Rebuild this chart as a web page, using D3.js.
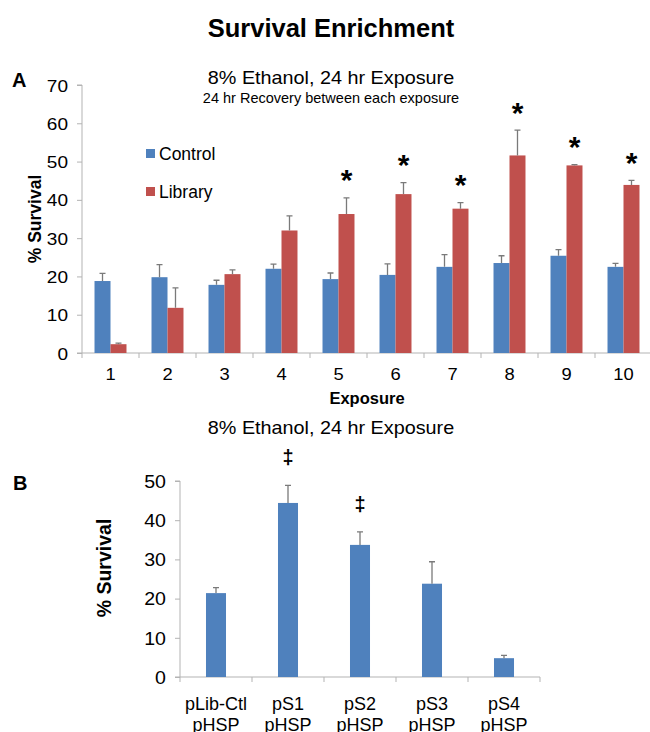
<!DOCTYPE html>
<html><head><meta charset="utf-8">
<script src="https://cdn.jsdelivr.net/npm/d3@7"></script>
<style>
html,body{margin:0;padding:0;background:#fff;}
svg{display:block;font-family:"Liberation Sans",Arial,sans-serif;}
</style></head>
<body>
<svg id="chart" width="650" height="732"></svg>
<script>
// ---------- Data ----------
const exposures = ["1","2","3","4","5","6","7","8","9","10"];
const seriesNames = ["Control","Library"];
const controlValues = [18.8, 19.8, 17.8, 22.0, 19.3, 20.4, 22.5, 23.5, 25.4, 22.5];
const controlErrTop = [20.8, 23.1, 19.0, 23.2, 20.9, 23.3, 25.7, 25.4, 27.0, 23.4];
const libraryValues = [2.3, 11.8, 20.6, 32.0, 36.3, 41.5, 37.7, 51.6, 49.0, 43.9];
const libraryErrTop = [2.6, 17.0, 21.7, 35.8, 40.5, 44.5, 39.3, 58.2, 49.2, 45.1];
const significantA = [false,false,false,false,true,true,true,true,true,true];
const yTicksA = [0,10,20,30,40,50,60,70];

const strainsLine1 = ["pLib-Ctl","pS1","pS2","pS3","pS4"];
const strainsLine2 = ["pHSP","pHSP","pHSP","pHSP","pHSP"];
const strainValues = [21.4, 44.4, 33.7, 23.8, 4.8];
const strainErrTop = [22.8, 48.9, 37.0, 29.4, 5.5];
const significantB = [false,true,true,false,false];
const yTicksB = [0,10,20,30,40,50];

// ---------- Style ----------
const BLUE = "#4f81bd", RED = "#c0504d", AXIS = "#b3b3b3", ERR = "#7a7a7a";
const FONT = "Liberation Sans, Arial, sans-serif";
const svg = d3.select("#chart");

function txt(x, y, s, size, opts = {}) {
  return svg.append("text")
    .attr("transform", `translate(${x},${y})` + (opts.rot ? ` rotate(${opts.rot})` : "") + (opts.sx ? ` scale(${opts.sx},1)` : ""))
    .attr("font-size", size)
    .attr("font-weight", opts.bold ? "bold" : "normal")
    .attr("text-anchor", opts.anchor || "middle")
    .attr("fill", "#000")
    .text(s);
}
function styleYTicks(g, size, sx) {
  g.selectAll(".tick line").attr("stroke", AXIS);
  g.selectAll(".tick text").attr("font-size", size).attr("fill", "#000").attr("font-family", FONT)
    .attr("dy", "0.36em").attr("x", -14 / sx).attr("transform", `scale(${sx},1)`);
}

// Main title
txt(331, 36.5, "Survival Enrichment", 25.5, {bold: true});

// ---------- Panel A ----------
const xA = d3.scaleBand().domain(exposures).range([82, 652]).paddingInner(0.439).paddingOuter(0.2195);
const xA1 = d3.scaleBand().domain(seriesNames).range([0, xA.bandwidth()]);
const yA = d3.scaleLinear().domain([0, 70]).range([353, 85]);
const colorA = d3.scaleOrdinal().domain(seriesNames).range([BLUE, RED]);

txt(12, 87, "A", 20, {bold: true, anchor: "start"});
txt(331, 84, "8% Ethanol,  24 hr Exposure", 18, {sx: 1.1});
txt(331, 102.5, "24 hr Recovery between each exposure", 14.5);

const gA = svg.append("g");
// y axis
const yAxisA = d3.axisLeft(yA).tickValues(yTicksA).tickSize(5).tickPadding(9).tickFormat(d3.format("d"));
const gyA = gA.append("g").attr("transform", "translate(82,0)").call(yAxisA);
gyA.select(".domain").attr("stroke", AXIS).attr("d", `M-5,${yA(0)}H0V${yA(70)}H-5`);
styleYTicks(gyA, 17, 1.12);

// x axis
const gxA = gA.append("g").attr("transform", `translate(0,${yA(0)})`);
gxA.append("line").attr("x1", 82).attr("x2", 652).attr("stroke", AXIS);
const boundsA = exposures.map(d => xA(d) - xA.step()*xA.paddingInner()/2).concat([652]);
gxA.selectAll("line.b").data(boundsA).join("line").attr("class","b")
  .attr("x1", d => d).attr("x2", d => d).attr("y1", 0).attr("y2", 5).attr("stroke", AXIS);
const xAxisA = d3.axisBottom(xA).tickSize(0).tickPadding(0);
const gxA2 = gA.append("g").attr("transform", `translate(0,380)`).call(xAxisA);
gxA2.select(".domain").remove();
gxA2.selectAll(".tick text").attr("font-size", 17).attr("fill", "#000").attr("dy", 0).attr("y", 0)
  .attr("font-family", FONT).attr("transform", "scale(1.08,1)");

txt(367, 404, "Exposure", 16.5, {bold: true});
txt(41, 219, "% Survival", 17.5, {bold: true, rot: -90});

// bars
const rowsA = exposures.map((e, i) => ({e, i, vals: [
  {s: "Control", v: controlValues[i], err: controlErrTop[i]},
  {s: "Library", v: libraryValues[i], err: libraryErrTop[i]}]}));
const grp = gA.selectAll("g.grp").data(rowsA).join("g").attr("class","grp")
  .attr("transform", d => `translate(${xA(d.e)},0)`);
grp.selectAll("rect").data(d => d.vals).join("rect")
  .attr("x", d => xA1(d.s)).attr("width", xA1.bandwidth())
  .attr("y", d => yA(d.v)).attr("height", d => yA(0) - yA(d.v))
  .attr("fill", d => colorA(d.s));
grp.selectAll("path.err").data(d => d.vals).join("path").attr("class","err")
  .attr("d", d => { const cx = xA1(d.s) + xA1.bandwidth()/2;
    return `M${cx},${yA(d.v)}V${yA(d.err)}M${cx-3},${yA(d.err)}H${cx+3}`; })
  .attr("stroke", ERR).attr("stroke-width", 1.3).attr("fill","none");
// significance
rowsA.forEach((d, i) => {
  if (!significantA[i]) return;
  const cx = xA(d.e) + xA1("Library") + xA1.bandwidth()/2;
  txt(cx, yA(libraryErrTop[i]) - 24 + 16.5, "*", 30, {bold: true});
});

// legend
seriesNames.forEach((s, i) => {
  const yy = 149 + i*38;
  svg.append("rect").attr("x", 146).attr("y", yy).attr("width", 9).attr("height", 9).attr("fill", colorA(s));
  txt(159, yy + 10.5, s, 17.5, {anchor: "start"});
});

// ---------- Panel B ----------
const xB = d3.scaleBand().domain(strainsLine1).range([180, 540]).paddingInner(0.722).paddingOuter(0.361);
const yB = d3.scaleLinear().domain([0, 50]).range([677, 481]);

txt(13, 490, "B", 20, {bold: true, anchor: "start"});
txt(331, 434, "8% Ethanol,  24 hr Exposure", 18, {sx: 1.1});
txt(111, 568, "% Survival", 19.5, {bold: true, rot: -90});

const gB = svg.append("g");
const yAxisB = d3.axisLeft(yB).tickValues(yTicksB).tickSize(5).tickPadding(9).tickFormat(d3.format("d"));
const gyB = gB.append("g").attr("transform", "translate(180,0)").call(yAxisB);
gyB.select(".domain").attr("stroke", AXIS).attr("d", `M-5,${yB(0)}H0V${yB(50)}H-5`);
styleYTicks(gyB, 17.5, 1.12);

const gxB = gB.append("g").attr("transform", `translate(0,${yB(0)})`);
gxB.append("line").attr("x1", 180).attr("x2", 540).attr("stroke", AXIS);
const boundsB = strainsLine1.map(d => xB(d) - xB.step()*xB.paddingInner()/2).concat([540]);
gxB.selectAll("line.b").data(boundsB).join("line").attr("class","b")
  .attr("x1", d => d).attr("x2", d => d).attr("y1", 0).attr("y2", 5).attr("stroke", AXIS);
strainsLine1.forEach((s, i) => {
  const cx = xB(s) + xB.bandwidth()/2;
  txt(cx, 709.5, s, 18);
  txt(cx, 730.5, strainsLine2[i], 18);
});

strainsLine1.forEach((s, i) => {
  const x0 = xB(s), w = xB.bandwidth(), cx = x0 + w/2;
  gB.append("rect").attr("x", x0).attr("width", w).attr("y", yB(strainValues[i]))
    .attr("height", yB(0) - yB(strainValues[i])).attr("fill", BLUE);
  gB.append("path").attr("d", `M${cx},${yB(strainValues[i])}V${yB(strainErrTop[i])}M${cx-3},${yB(strainErrTop[i])}H${cx+3}`)
    .attr("stroke", ERR).attr("stroke-width", 1.3).attr("fill","none");
  if (significantB[i]) txt(cx, yB(strainErrTop[i]) - 21, "‡", 20, {bold: true});
});
</script>
</body></html>
